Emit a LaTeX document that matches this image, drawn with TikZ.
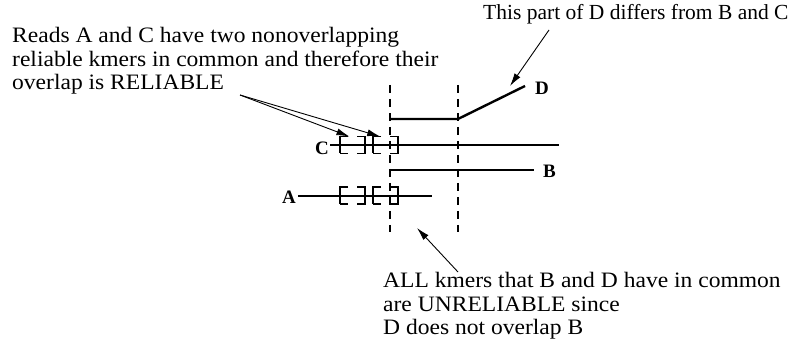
\documentclass[tikz,border=0pt]{standalone}
\usepackage{fontspec}
\setmainfont{Liberation Serif}
\newfontfamily\widefont[FakeStretch=1.07]{Liberation Serif}
\usetikzlibrary{arrows.meta,calc}
\begin{document}
\begin{tikzpicture}[x=1pt,y=-1pt,
  read/.style={line width=2.4pt},
  guide/.style={line width=1.1pt, dash pattern=on 8pt off 6pt},
  kmer/.style={draw, line width=1.1pt, minimum width=25pt, minimum height=17pt,
    inner sep=0pt, outer sep=0pt,
    dash pattern=on 8pt off 9pt on 33pt off 9pt on 25pt},
  lbl/.style={font=\fontsize{19}{19}\selectfont\bfseries, inner sep=0pt, anchor=base west},
  note/.style={font=\fontsize{21.5}{23.5}\selectfont, align=left, inner sep=0pt, anchor=base west},
  widenote/.style={note, font=\widefont\fontsize{22}{23.5}\selectfont},
  pointer/.style={line width=0.9pt, -{Latex[length=13pt,width=7pt]}}
]
\useasboundingbox (0,0) rectangle (795,344);

% guide lines
\coordinate (g1t) at (390,85); \coordinate (g1b) at (390,232);
\coordinate (g2t) at (458,85); \coordinate (g2b) at (458,232);
\draw[guide] (g1t) -- (g1b);
\draw[guide] (g2t) -- (g2b);

% labels
\node[lbl] (Clab) at (315,155) {C};
\node[lbl] (Alab) at (282,204) {A};
\node[lbl] (Dlab) at (535,95) {D};
\node[lbl] (Blab) at (543,178) {B};

% reads
\coordinate (Cs) at (330,145); \coordinate (Ce) at (559,145);
\coordinate (As) at (298,196); \coordinate (Ae) at (432,196);
\coordinate (Bs) at (390,170); \coordinate (Be) at (534,170);
\coordinate (Ds) at (390,119); \coordinate (Dm) at (458,119); \coordinate (De) at (525,86);
\draw[read] (Cs) -- (Ce);
\draw[read] (As) -- (Ae);
\draw[read] (Bs) -- (Be);
\draw[read] (Ds) -- (Dm) -- (De);

% kmers
\node[kmer] (k1) at (352.5,145) {};
\node[kmer] (k2) at (385.5,145) {};
\node[kmer] (k3) at (352.5,195.5) {};
\node[kmer] (k4) at (385.5,195.5) {};

% notes
\node[widenote] (n1) at (12,90) {Reads A and C have two nonoverlapping\\reliable kmers in common and therefore their\\overlap is RELIABLE};
\node[note] (n2) at (483,20) {This part of D differs from B and C};
\node[widenote] (n3) at (383,335) {ALL kmers that B and D have in common\\are UNRELIABLE since\\D does not overlap B};

% pointers
\coordinate (p1) at (240,95);
\draw[pointer] (p1) -- (k1.110);
\draw[pointer] (p1) -- (k2.122);
\coordinate (p2) at (549,30); \coordinate (p2e) at (510,86);
\draw[pointer] (p2) -- (p2e);
\coordinate (p3) at (458,272); \coordinate (p3e) at (417,228);
\draw[pointer] (p3) -- (p3e);
\end{tikzpicture}
\end{document}
